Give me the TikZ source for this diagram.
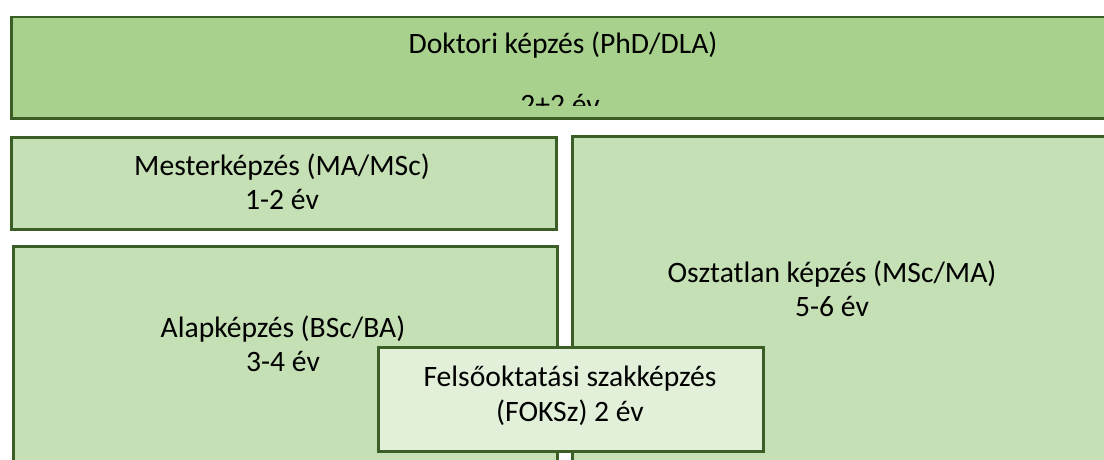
\documentclass[tikz,border=0pt]{standalone}
\usepackage{fontspec}
\setmainfont{Carlito}
\definecolor{edge}{HTML}{3B5E27}
\definecolor{darkfill}{HTML}{A9D18E}
\definecolor{midfill}{HTML}{C5E0B4}
\definecolor{lightfill}{HTML}{E2F0D9}
\begin{document}
\begin{tikzpicture}[x=1pt,y=-1pt,
  box/.style={draw=edge, line width=2.5pt, rectangle, inner sep=0pt, anchor=north west},
  lbl/.style={font=\fontsize{29.6}{34.5}\selectfont, align=center, inner sep=0pt, text=black}]
\useasboundingbox (0,0) rectangle (1104,460);
\clip (0,0) rectangle (1104,460);
\node[box, fill=darkfill, minimum width=1120pt, minimum height=101pt] (doktori) at (10,16) {};
\node[box, fill=midfill, minimum width=545pt, minimum height=92pt] (mester) at (10,136) {};
\node[box, fill=midfill, minimum width=560pt, minimum height=340pt] (osztatlan) at (571,135) {};
\node[box, fill=midfill, minimum width=544pt, minimum height=240pt] (alap) at (12,245) {};
\node[box, fill=lightfill, minimum width=385pt, minimum height=104pt] (foksz) at (377,346) {};
\node[lbl] (tdoktori) at (563,45) {Doktori képzés (PhD/DLA)};
\begin{scope}
  \clip (12,18) rectangle (1104,106);
  \node[lbl, anchor=base] (tdoktev) at (560,114) {2+2 év};
\end{scope}
\node[lbl] (tmester) at (282,182) {Mesterképzés (MA/MSc)\\1-2 év};
\node[lbl] (talap) at (283,344) {Alapképzés (BSc/BA)\\3-4 év};
\node[lbl] (tosztatlan) at (832,289) {Osztatlan képzés (MSc/MA)\\5-6 év};
\node[lbl] (tfoksz) at (570,396) {Felsőoktatási szakképzés\\(FOKSz) 2 év};
\end{tikzpicture}
\end{document}
